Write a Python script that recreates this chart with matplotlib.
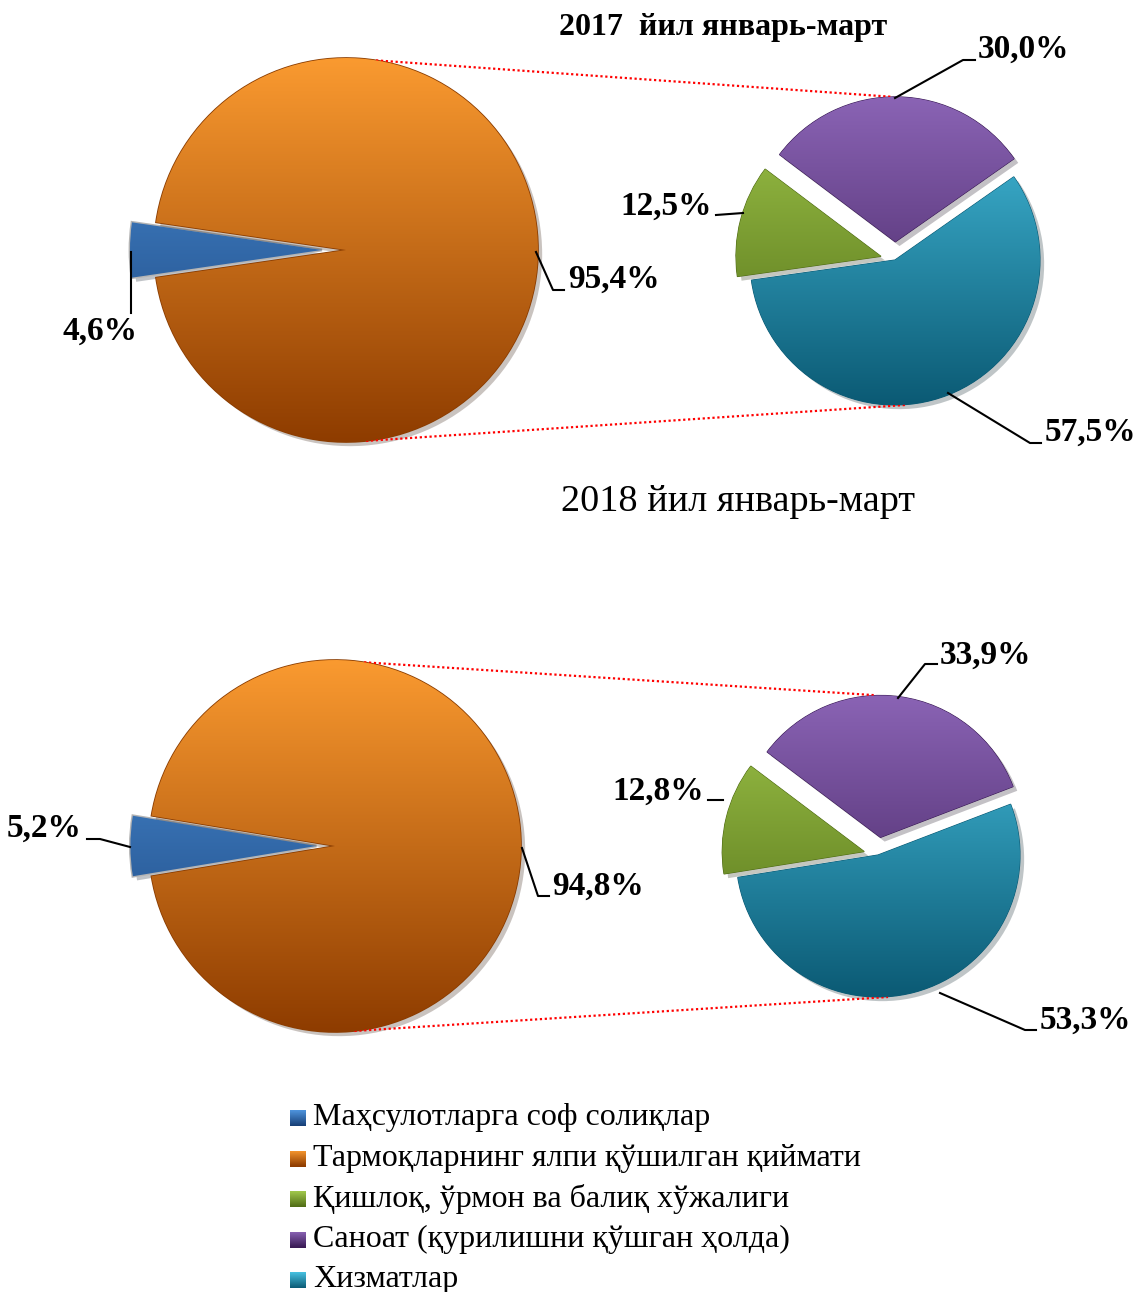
import numpy as np
import matplotlib.pyplot as plt
from matplotlib.colors import LinearSegmentedColormap
import matplotlib.patheffects as pe

plt.rcParams['font.family'] = ['Liberation Serif', 'DejaVu Serif']

W, H = 1135, 1292

categories = ['Маҳсулотларга соф солиқлар',
              'Тармоқларнинг ялпи қўшилган қиймати',
              'Қишлоқ, ўрмон ва балиқ хўжалиги',
              'Саноат (қурилишни қўшган ҳолда)',
              'Хизматлар']
titles = ['2017  йил январь-март', '2018 йил январь-март']

# main pie: net taxes, gross value added
taxes = [4.6, 5.2]
gva = [95.4, 94.8]
# secondary pie: shares of value added
agri = [12.5, 12.8]
industry = [30.0, 33.9]
services = [57.5, 53.3]

# top / bottom gradient colours per category
shades = [('#4f95de', '#163d74'),
          ('#fa9a30', '#8e3c00'),
          ('#a2c94c', '#4f6b15'),
          ('#8d66b8', '#3a1b55'),
          ('#48c2e2', '#0b5a74')]

fig = plt.figure(figsize=(W / 100, H / 100), dpi=100)
ax = fig.add_axes([0, 0, 1, 1])
ax.set_xlim(0, W)
ax.set_ylim(0, H)
ax.axis('off')


def Y(y):
    return H - y


def shade(patch, top, bot, box, z=2):
    cmap = LinearSegmentedColormap.from_list('', [bot, top])
    grad = np.linspace(0, 1, 256).reshape(-1, 1)
    im = ax.imshow(grad, cmap=cmap, extent=box, origin='lower', aspect='auto',
                   zorder=z, interpolation='bicubic')
    im.set_clip_path(patch)


def shadow_fx():
    return [pe.SimplePatchShadow(offset=(3, -3), alpha=0.25), pe.Normal()]


# layout in pixels: big pie center/radius, small pie center/radius
layout = [dict(big=(346, 250, 192), small=(895, 260, 145), bexp=0.125),
          dict(big=(335, 846, 186), small=(878, 855, 142), bexp=0.1)]

for i in range(2):
    L = layout[i]
    bx, by, br = L['big']
    sx, sy, sr = L['small']

    # big pie, taxes slice exploded to the left
    vals = [taxes[i], gva[i]]
    start = 180 - 360 * taxes[i] / 100 / 2
    wedges, _ = ax.pie(vals, startangle=start, center=(bx, Y(by)), radius=br,
                       explode=[L['bexp'] * br, 0], colors=[shades[0][1], shades[1][1]],
                       wedgeprops=dict(linewidth=1.2), frame=True)
    wedges[0].set_edgecolor('#b4b4b4')
    wedges[0].set_linewidth(2)
    wedges[1].set_edgecolor('#8a3c00')
    box = (bx - br * 1.3, bx + br, Y(by) - br, Y(by) + br)
    for w, c in zip(wedges, [0, 1]):
        w.set_path_effects(shadow_fx())
        shade(w, shades[c][0], shades[c][1], box)

    # secondary pie: industry, agriculture, services counterclockwise
    svals = [industry[i], agri[i], services[i]]
    sstart = 143 - 360 * industry[i] / 100
    pexp, gexp = 0.125, 0.1
    swedges, _ = ax.pie(svals, startangle=sstart, center=(sx, Y(sy)), radius=sr,
                        explode=[pexp * sr, gexp * sr, 0],
                        colors=[shades[3][1], shades[2][1], shades[4][1]],
                        wedgeprops=dict(linewidth=0.8), frame=True)
    sbox = (sx - sr * 1.2, sx + sr * 1.2, Y(sy) - sr, Y(sy) + sr * 1.2)
    for w, c in zip(swedges, [3, 2, 4]):
        w.set_edgecolor(shades[c][1])
        w.set_path_effects(shadow_fx())
        shade(w, shades[c][0], shades[c][1], sbox)

    # connector lines
    a1, a2 = np.radians(81), np.radians(-84)
    ax.plot([bx + br * np.cos(a1), sx - 2], [Y(by) + br * np.sin(a1), Y(sy) + sr * (1 + pexp)],
            color='red', linestyle=(0, (1, 1.2)), linewidth=1.6, zorder=1)
    ax.plot([bx + br * np.cos(a2), sx + 10], [Y(by) + br * np.sin(a2), Y(sy) - sr],
            color='red', linestyle=(0, (1, 1.2)), linewidth=1.6, zorder=1)

ax.set_xlim(0, W)
ax.set_ylim(0, H)
ax.set_aspect('equal')
ax.axis('off')

lbl = dict(fontsize=24, fontweight='bold', va='center', zorder=5)
lead = dict(color='black', linewidth=1.5, zorder=4)

# 2017 labels
ax.plot([131, 131], [Y(252), Y(313)], **lead)
ax.text(100, Y(331), f'{taxes[0]:.1f}%'.replace('.', ','), ha='center', **lbl)
ax.plot([536, 553, 564], [Y(252), Y(290), Y(290)], **lead)
ax.text(568, Y(279), f'{gva[0]:.1f}%'.replace('.', ','), ha='left', **lbl)
ax.plot([895, 963, 975], [Y(98), Y(60), Y(60)], **lead)
ax.text(978, Y(49), f'{industry[0]:.1f}%'.replace('.', ','), ha='left', **lbl)
ax.plot([743, 716], [Y(213), Y(215)], **lead)
ax.text(712, Y(206), f'{agri[0]:.1f}%'.replace('.', ','), ha='right', **lbl)
ax.plot([948, 1030, 1041], [Y(393), Y(443), Y(443)], **lead)
ax.text(1045, Y(432), f'{services[0]:.1f}%'.replace('.', ','), ha='left', **lbl)

# 2018 labels
ax.plot([130, 100, 87], [Y(847), Y(839), Y(839)], **lead)
ax.text(82, Y(828), f'{taxes[1]:.1f}%'.replace('.', ','), ha='right', **lbl)
ax.plot([522, 538, 549], [Y(848), Y(896), Y(896)], **lead)
ax.text(552, Y(886), f'{gva[1]:.1f}%'.replace('.', ','), ha='left', **lbl)
ax.plot([898, 925, 937], [Y(698), Y(664), Y(664)], **lead)
ax.text(940, Y(655), f'{industry[1]:.1f}%'.replace('.', ','), ha='left', **lbl)
ax.plot([723, 708], [Y(800), Y(800)], **lead)
ax.text(704, Y(791), f'{agri[1]:.1f}%'.replace('.', ','), ha='right', **lbl)
ax.plot([940, 1025, 1036], [Y(993), Y(1030), Y(1030)], **lead)
ax.text(1040, Y(1020), f'{services[1]:.1f}%'.replace('.', ','), ha='left', **lbl)

# titles
ax.text(723, Y(28), titles[0], fontsize=23, fontweight='bold', ha='center', va='center')
ax.text(738, Y(502), titles[1], fontsize=27.5, ha='center', va='center')

# legend
for k, name in enumerate(categories):
    yy = Y(1118 + k * 40.5)
    sq = plt.Rectangle((290, yy - 8), 16, 16, facecolor=shades[k][1], edgecolor='none', zorder=3)
    ax.add_patch(sq)
    shade(sq, shades[k][0], shades[k][1], (290, 306, yy - 8, yy + 8), z=4)
    ax.text(313, yy, name, fontsize=23, ha='left', va='center')

fig.savefig('out.png', dpi=100)
